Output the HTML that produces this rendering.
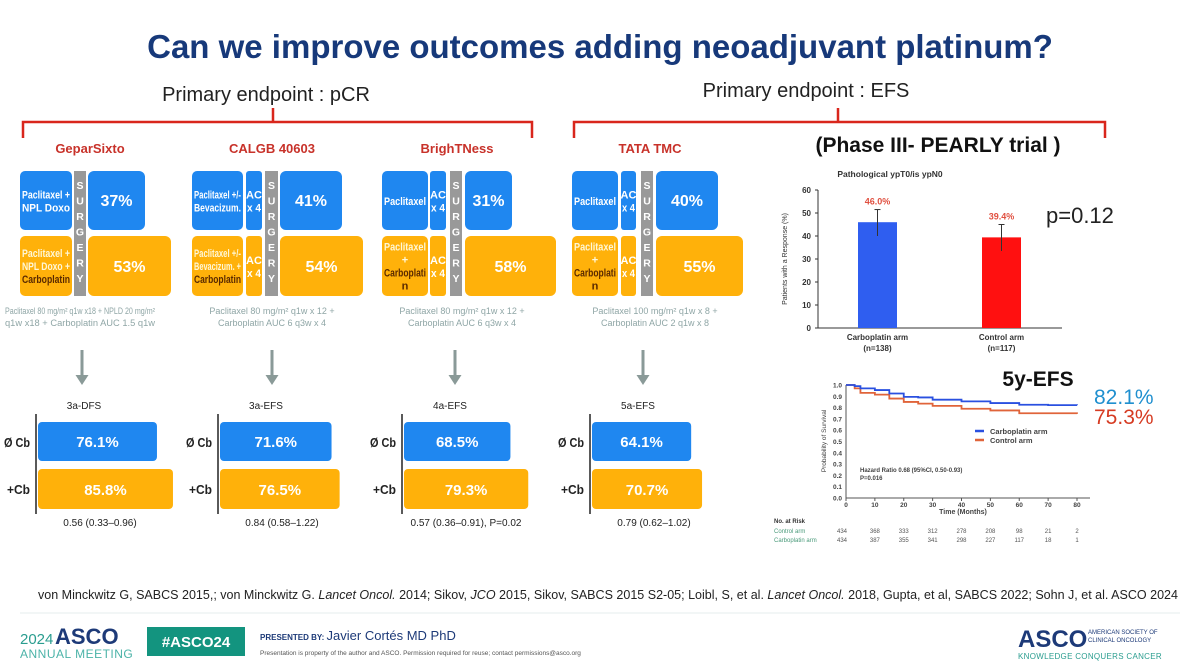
<!DOCTYPE html>
<html><head><meta charset="utf-8"><style>
html,body{margin:0;padding:0;background:#fff;}
svg{display:block;font-family:"Liberation Sans",Arial,sans-serif;}
</style></head><body>
<svg id="s" width="1200" height="665" viewBox="0 0 1200 665">
<text x="600" y="58" text-anchor="middle" font-size="33" font-weight="bold" fill="#17397a">Can we improve outcomes adding neoadjuvant platinum?</text>
<text x="266" y="101" text-anchor="middle" font-size="20" fill="#222">Primary endpoint : pCR</text>
<text x="806" y="97" text-anchor="middle" font-size="20" fill="#222">Primary endpoint : EFS</text>
<path d="M23 138 V122 H532 V138 M273 122 V108" stroke="#d9261c" stroke-width="2.5" fill="none"/>
<path d="M574 138 V122 H1105 V138 M838 122 V108" stroke="#d9261c" stroke-width="2.5" fill="none"/>
<g id="trials"></g>
<g id="lower"></g>
<text x="938" y="152" text-anchor="middle" font-size="21" font-weight="bold" fill="#111">(Phase III- PEARLY trial )</text>
<g id="pcrchart"></g>
<text x="1046" y="223" font-size="22" fill="#222">p=0.12</text>
<g id="km"></g>
<text x="1038" y="386" text-anchor="middle" font-size="21" font-weight="bold" fill="#111">5y-EFS</text>
<text x="1094" y="404" font-size="21" fill="#1f8fcf">82.1%</text>
<text x="1094" y="424" font-size="21" fill="#d63b22">75.3%</text>
<text x="38" y="599" font-size="13" fill="#222" textLength="1140" lengthAdjust="spacingAndGlyphs">von Minckwitz G, SABCS 2015,; von Minckwitz G. <tspan font-style="italic">Lancet Oncol.</tspan> 2014; Sikov, <tspan font-style="italic">JCO</tspan> 2015, Sikov, SABCS 2015 S2-05; Loibl, S, et al. <tspan font-style="italic">Lancet Oncol.</tspan> 2018, Gupta, et al, SABCS 2022; Sohn J, et al. ASCO 2024</text>
<line x1="20" y1="613" x2="1180" y2="613" stroke="#e6ecec" stroke-width="1"/>
<g>
<text x="20" y="644" font-size="15" fill="#2a9d8f">2024</text>
<text x="55" y="644" font-size="22" font-weight="bold" fill="#1d3a78">ASCO</text>
<text x="20" y="658" font-size="12" fill="#4bb3a8" letter-spacing="0.5">ANNUAL MEETING</text>
</g>
<rect x="147" y="627" width="98" height="29" fill="#13947f"/>
<text x="196" y="647" text-anchor="middle" font-size="15" font-weight="bold" fill="#fff">#ASCO24</text>
<text x="260" y="640" font-size="8" font-weight="bold" fill="#1d3a78">PRESENTED BY: <tspan font-size="13" font-weight="normal">Javier Cortés MD PhD</tspan></text>
<text x="260" y="655" font-size="6.5" fill="#555">Presentation is property of the author and ASCO. Permission required for reuse; contact permissions@asco.org</text>
<g>
<text x="1018" y="647" font-size="24" font-weight="bold" fill="#1d3a78">ASCO</text>
<text x="1088" y="634" font-size="6" fill="#1d3a78">AMERICAN SOCIETY OF</text>
<text x="1088" y="642" font-size="6" fill="#1d3a78">CLINICAL ONCOLOGY</text>
<text x="1018" y="659" font-size="8" fill="#2a9d8f" letter-spacing="0.3">KNOWLEDGE CONQUERS CANCER</text>
</g>
</svg>
<script>
const NS="http://www.w3.org/2000/svg";
function mk(p,tag,a,txt){const e=document.createElementNS(NS,tag);for(const k in a)e.setAttribute(k,a[k]);if(txt!==undefined)e.textContent=txt;p.appendChild(e);return e;}
function fit(e,txt,fs,avail){const est=txt.length*fs*0.56;if(est>avail){e.setAttribute("textLength",avail);e.setAttribute("lengthAdjust","spacingAndGlyphs");}return e;}
const BLUE="#1f87f0",ORG="#ffb10a";

// ---- trial pCR panels ----
const trialNames=["GeparSixto","CALGB 40603","BrighTNess","TATA TMC"];
const pcrControl=[37,41,31,40];
const pcrCarbo=[53,54,58,55];
const trialLayout=[
 {t:90,b:[20,72],ac:null,s:[74,86],r:[88,145],ro:171,note:["Paclitaxel 80 mg/m² q1w  x18 + NPLD 20 mg/m²","q1w  x18 + Carboplatin AUC 1.5 q1w"],nx:80,lb:["Paclitaxel +","NPL Doxo"],lo:["Paclitaxel +","NPL Doxo +","Carboplatin"]},
 {t:272,b:[192,243],ac:[246,262],s:[265,278],r:[280,342],ro:363,note:["Paclitaxel 80 mg/m² q1w x 12  +","Carboplatin  AUC 6 q3w x 4"],nx:272,lb:["Paclitaxel +/-","Bevacizum."],lo:["Paclitaxel +/-","Bevacizum. +","Carboplatin"]},
 {t:457,b:[382,428],ac:[430,446],s:[450,462],r:[465,512],ro:556,note:["Paclitaxel 80 mg/m² q1w x 12  +","Carboplatin  AUC 6 q3w x 4"],nx:462,lb:["Paclitaxel"],lo:["Paclitaxel","+","Carboplati","n"]},
 {t:650,b:[572,618],ac:[621,636],s:[641,653],r:[656,718],ro:743,note:["Paclitaxel 100 mg/m² q1w x 8  +","Carboplatin  AUC 2 q1w x 8"],nx:655,lb:["Paclitaxel"],lo:["Paclitaxel","+","Carboplati","n"]}
];
const tg=document.getElementById("trials");
trialNames.forEach((n,i)=>{
 const L=trialLayout[i];
 const g=mk(tg,"g",{});
 
 
 mk(g,"text",{x:L.t,y:153,"text-anchor":"middle","font-size":13,"font-weight":"bold",fill:"#c8322a"},n);
 const y1=171,h1=59,y2=236,h2=60;
 mk(g,"rect",{x:L.b[0],y:y1,width:L.b[1]-L.b[0],height:h1,rx:5,fill:BLUE});
 mk(g,"rect",{x:L.b[0],y:y2,width:L.b[1]-L.b[0],height:h2,rx:5,fill:ORG});
 const cx=(L.b[0]+L.b[1])/2, bw=L.b[1]-L.b[0]-4;
 L.lb.forEach((s,k)=>fit(mk(g,"text",{x:cx,y:y1+30+(k-(L.lb.length-1)/2)*13+4,"text-anchor":"middle","font-size":11,"font-weight":"bold",fill:"#fff"},s),s,11,bw));
 L.lo.forEach((s,k)=>{const carb=s.startsWith("Carbo")||s==="n";fit(mk(g,"text",{x:cx,y:y2+30+(k-(L.lo.length-1)/2)*13+4,"text-anchor":"middle","font-size":11,"font-weight":"bold",fill:carb?"#5a2a00":"#fff7d6"},s),s,11,bw);});
 if(L.ac){[[y1,h1,BLUE],[y2,h2,ORG]].forEach(([yy,hh,c])=>{mk(g,"rect",{x:L.ac[0],y:yy,width:L.ac[1]-L.ac[0],height:hh,rx:3,fill:c});const ax=(L.ac[0]+L.ac[1])/2,aw=L.ac[1]-L.ac[0]-2;fit(mk(g,"text",{x:ax,y:yy+hh/2-2,"text-anchor":"middle","font-size":11,"font-weight":"bold",fill:"#fff"},"AC"),"AC",11,aw);fit(mk(g,"text",{x:ax,y:yy+hh/2+11,"text-anchor":"middle","font-size":11,"font-weight":"bold",fill:"#fff"},"x 4"),"x 4",11,aw);});}
 mk(g,"rect",{x:L.s[0],y:y1,width:L.s[1]-L.s[0],height:y2+h2-y1,fill:"#999"});
 "SURGERY".split("").forEach((c,k)=>mk(g,"text",{x:(L.s[0]+L.s[1])/2,y:y1+18+k*15.5,"text-anchor":"middle","font-size":10.5,"font-weight":"bold",fill:"#fff"},c));
 const rb=mk(g,"rect",{x:L.r[0],y:y1,width:L.r[1]-L.r[0],height:h1,rx:6,fill:BLUE});
 
 
 mk(g,"text",{x:(L.r[0]+L.r[1])/2,y:y1+35,"text-anchor":"middle","font-size":16,"font-weight":"bold",fill:"#fff"},pcrControl[i]+"%");
 const ro=mk(g,"rect",{x:L.r[0],y:y2,width:L.ro-L.r[0],height:h2,rx:6,fill:ORG});
 
 
 mk(g,"text",{x:(L.r[0]+L.ro)/2,y:y2+36,"text-anchor":"middle","font-size":16,"font-weight":"bold",fill:"#fff"},pcrCarbo[i]+"%");
 L.note.forEach((s,k)=>fit(mk(g,"text",{x:L.nx,y:314+k*12,"text-anchor":"middle","font-size":9,fill:"#8fa6a6"},s),s,9*0.9,150));
 const axp=[82,272,455,643][i];
 mk(g,"path",{d:`M${axp-1.5} 350 h3 v25 h5 l-6.5 10 l-6.5 -10 h5 z`,fill:"#8a9a98"});
});

// ---- lower survival bars ----
const endpoints=["3a-DFS","3a-EFS","4a-EFS","5a-EFS"];
const survControl=[76.1,71.6,68.5,64.1];
const survCarbo=[85.8,76.5,79.3,70.7];
const hrText=["0.56 (0.33–0.96)","0.84 (0.58–1.22)","0.57 (0.36–0.91), P=0.02","0.79 (0.62–1.02)"];
const axisX=[36,218,402,590];
const barW=v=>(v-4)*1.65;
const lg=document.getElementById("lower");
endpoints.forEach((e,i)=>{
 const x0=axisX[i];
 const g=mk(lg,"g",{});
 
 
 mk(g,"text",{x:x0+48,y:409,"text-anchor":"middle","font-size":10,fill:"#222"},e);
 mk(g,"line",{x1:x0,y1:414,x2:x0,y2:514,stroke:"#222","stroke-width":1.5});
 mk(g,"text",{x:x0-6,y:447,"text-anchor":"end","font-size":13,"font-weight":"bold",fill:"#222",textLength:26,lengthAdjust:"spacingAndGlyphs"},"Ø Cb");
 mk(g,"text",{x:x0-6,y:494,"text-anchor":"end","font-size":13,"font-weight":"bold",fill:"#222",textLength:23,lengthAdjust:"spacingAndGlyphs"},"+Cb");
 const b1=mk(g,"rect",{x:x0+2,y:422,width:barW(survControl[i]),height:39,rx:4,fill:BLUE});
 
 
 mk(g,"text",{x:x0+2+barW(survControl[i])/2,y:447,"text-anchor":"middle","font-size":15,"font-weight":"bold",fill:"#fff"},survControl[i].toFixed(1)+"%");
 const b2=mk(g,"rect",{x:x0+2,y:469,width:barW(survCarbo[i]),height:40,rx:4,fill:ORG});
 
 
 mk(g,"text",{x:x0+2+barW(survCarbo[i])/2,y:495,"text-anchor":"middle","font-size":15,"font-weight":"bold",fill:"#fff"},survCarbo[i].toFixed(1)+"%");
 mk(g,"text",{x:x0+64,y:526,"text-anchor":"middle","font-size":10,fill:"#222"},hrText[i]);
});

// ---- PEARLY pCR bar chart ----
const armNames=["Carboplatin arm","Control arm"];
const armN=["(n=138)","(n=117)"];
const armVals=[46.0,39.4];
const armErrLo=[40,33.5];
const armErrHi=[51.5,45];
const yTicks=[0,10,20,30,40,50,60];
const pc=document.getElementById("pcrchart");
const py=v=>328-v*(138/60);
const bx=[858,982];
mk(pc,"text",{x:890,y:177,"text-anchor":"middle","font-size":8.5,"font-weight":"bold",fill:"#333"},"Pathological ypT0/is ypN0");
mk(pc,"line",{x1:818,y1:py(60),x2:818,y2:328,stroke:"#333"});
mk(pc,"line",{x1:818,y1:328,x2:1062,y2:328,stroke:"#333"});
yTicks.forEach(t=>{mk(pc,"line",{x1:815,y1:py(t),x2:818,y2:py(t),stroke:"#333"});const tl=mk(pc,"text",{x:811,y:py(t)+3,"text-anchor":"end","font-size":8,"font-weight":"bold",fill:"#333"},t);});
const yt=mk(pc,"text",{x:0,y:0,transform:"translate(787,259) rotate(-90)","text-anchor":"middle","font-size":7,fill:"#333"},"Patients with a Response (%)");


armVals.forEach((v,i)=>{
 const c=i===0?"#2f5ef0":"#ff1010";
 const r=mk(pc,"rect",{x:bx[i],y:py(v),width:39,height:328-py(v),fill:c});
 
 
 const cx=bx[i]+19.5;
 mk(pc,"line",{x1:cx,y1:py(armErrHi[i]),x2:cx,y2:py(armErrLo[i]),stroke:"#333","stroke-width":1});
 mk(pc,"line",{x1:cx-3,y1:py(armErrHi[i]),x2:cx+3,y2:py(armErrHi[i]),stroke:"#333"});
 mk(pc,"text",{x:cx,y:py(armErrHi[i])-5,"text-anchor":"middle","font-size":9,"font-weight":"bold",fill:"#e05040"},v.toFixed(1)+"%");
 mk(pc,"text",{x:cx,y:340,"text-anchor":"middle","font-size":8,"font-weight":"bold",fill:"#333"},armNames[i]);
 mk(pc,"text",{x:cx,y:351,"text-anchor":"middle","font-size":8,"font-weight":"bold",fill:"#333"},armN[i]);
});

// ---- KM curve ----
const kmTime=[0,3,5,10,15,20,25,30,40,50,60,70,80];
const kmCarbo=[1.0,0.99,0.97,0.955,0.925,0.895,0.89,0.87,0.855,0.84,0.825,0.822,0.821];
const kmControl=[1.0,0.97,0.93,0.915,0.88,0.85,0.835,0.815,0.79,0.775,0.75,0.75,0.745];
const xTicks=[0,10,20,30,40,50,60,70,80];
const sTicks=[0,0.1,0.2,0.3,0.4,0.5,0.6,0.7,0.8,0.9,1.0];
const riskControl=[434,368,333,312,278,208,98,21,2];
const riskCarbo=[434,387,355,341,298,227,117,18,1];
const km=document.getElementById("km");
const kx=t=>846+t*(231/80), ky=s=>498-s*113;
mk(km,"line",{x1:846,y1:ky(1),x2:846,y2:498,stroke:"#555"});
mk(km,"line",{x1:846,y1:498,x2:1090,y2:498,stroke:"#555"});
sTicks.forEach(s=>mk(km,"text",{x:842,y:ky(s)+2.5,"text-anchor":"end","font-size":6.5,"font-weight":"bold",fill:"#444"},s.toFixed(1)));
xTicks.forEach(t=>{mk(km,"line",{x1:kx(t),y1:498,x2:kx(t),y2:501,stroke:"#555"});mk(km,"text",{x:kx(t),y:507,"text-anchor":"middle","font-size":6.5,"font-weight":"bold",fill:"#444"},t);});
mk(km,"text",{x:0,y:0,transform:"translate(826,441) rotate(-90)","text-anchor":"middle","font-size":6.5,fill:"#444"},"Probability of Survival");
mk(km,"text",{x:963,y:514,"text-anchor":"middle","font-size":7,"font-weight":"bold",fill:"#444"},"Time (Months)");
function stepPath(ts,vs){let d=`M${kx(ts[0])} ${ky(vs[0])}`;for(let k=1;k<ts.length;k++){d+=` H${kx(ts[k])} V${ky(vs[k])}`;}return d;}
const lc=mk(km,"path",{d:stepPath(kmTime,kmControl),stroke:"#e0643a","stroke-width":1.8,fill:"none"});


const lb=mk(km,"path",{d:stepPath(kmTime,kmCarbo),stroke:"#2a50e0","stroke-width":1.8,fill:"none"});


mk(km,"line",{x1:975,y1:431,x2:984,y2:431,stroke:"#2a50e0","stroke-width":2.5});
mk(km,"text",{x:990,y:434,"font-size":7.5,"font-weight":"bold",fill:"#444"},"Carboplatin arm");
mk(km,"line",{x1:975,y1:440,x2:984,y2:440,stroke:"#e0643a","stroke-width":2.5});
mk(km,"text",{x:990,y:443,"font-size":7.5,"font-weight":"bold",fill:"#444"},"Control arm");
mk(km,"text",{x:860,y:472,"font-size":6,"font-weight":"bold",fill:"#444"},"Hazard Ratio 0.68 (95%CI, 0.50-0.93)");
mk(km,"text",{x:860,y:480,"font-size":6,"font-weight":"bold",fill:"#444"},"P=0.016");
mk(km,"text",{x:774,y:523,"font-size":6,"font-weight":"bold",fill:"#333"},"No. at Risk");
mk(km,"text",{x:774,y:533,"font-size":6,fill:"#4a9a7a"},"Control arm");
mk(km,"text",{x:774,y:542,"font-size":6,fill:"#4a9a7a"},"Carboplatin arm");
xTicks.forEach((t,k)=>{mk(km,"text",{x:kx(t)+(k===0?-4:0),y:533,"text-anchor":"middle","font-size":6,fill:"#555"},riskControl[k]);mk(km,"text",{x:kx(t)+(k===0?-4:0),y:542,"text-anchor":"middle","font-size":6,fill:"#555"},riskCarbo[k]);});
</script>
</body></html>
